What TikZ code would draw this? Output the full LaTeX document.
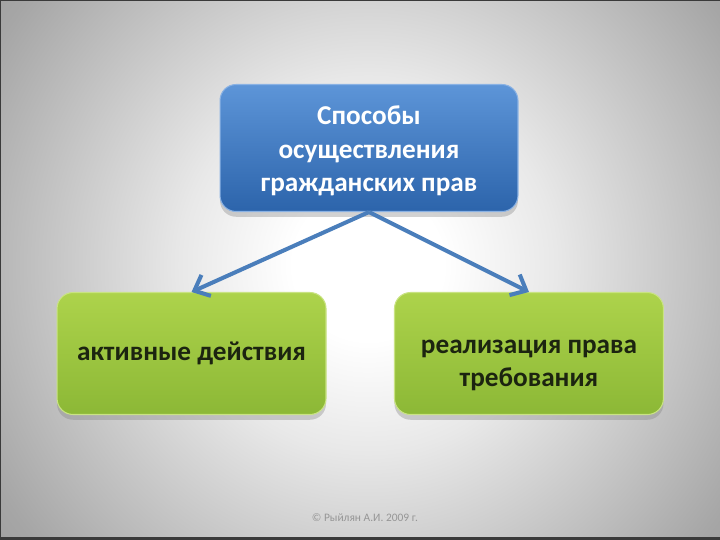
\documentclass[tikz,border=0pt]{standalone}
\usepackage{fontspec}
\setmainfont{Carlito}
\usepackage{xcolor}
\usepackage{tikz}
\usetikzlibrary{arrows.meta,positioning,shadows}
\definecolor{bluetop}{HTML}{5D95D8}
\definecolor{bluebot}{HTML}{2C64AB}
\definecolor{blueedge}{HTML}{8AB2E4}
\definecolor{greentop}{HTML}{ADD34B}
\definecolor{greenbot}{HTML}{8CB836}
\definecolor{greenedge}{HTML}{C9E383}
\definecolor{arrowblue}{HTML}{4A7EBB}
\definecolor{inktext}{HTML}{1C2410}
\definecolor{foot}{HTML}{969696}
\definecolor{bgedge}{HTML}{3A3A3A}
\pgfdeclareradialshading{slidebg}{\pgfpoint{0bp}{0bp}}{%
  color(0bp)=(white); color(4bp)=(white); color(10bp)=(black!9);
  color(17bp)=(black!23); color(23bp)=(black!35); color(29bp)=(black!42);
  color(50bp)=(black!42)}

\begin{document}
\begin{tikzpicture}[
  x=0.02cm, y=-0.02cm,
  font=\bfseries\fontsize{15.5}{19}\selectfont,
  rootbox/.style={draw=blueedge, line width=0.6pt, top color=bluetop, bottom color=bluebot,
    rounded corners=0.32cm, minimum width=5.96cm, minimum height=2.54cm, align=center,
    text=white, drop shadow={opacity=0.35, shadow xshift=0pt, shadow yshift=-3pt}},
  leafbox/.style={draw=greenedge, line width=0.6pt, top color=greentop, bottom color=greenbot,
    rounded corners=0.32cm, minimum width=5.38cm, minimum height=2.44cm, align=center,
    text=inktext, drop shadow={opacity=0.35, shadow xshift=0pt, shadow yshift=-3pt}},
  arr/.style={-{Straight Barb[length=2.6mm, width=4.6mm]}, line width=2.3pt, arrowblue}
]
% background
\useasboundingbox (0,0) rectangle (720,540);
\begin{scope}
  \clip (0,0) rectangle (720,540);
  \shade[shading=slidebg] (368,265) circle (470);
  \fill[bgedge] (0,537) rectangle (720,540);
  \fill[bgedge] (0,0) rectangle (1.2,540);
  \fill[bgedge] (0,0) rectangle (720,1);
\end{scope}

\node[rootbox] (ways) at (369,148) {\rule{0pt}{0.5cm}Способы\\осуществления\\гражданских прав};
\node[leafbox, below=1.6cm of ways.south, anchor=north, xshift=-3.55cm] (active) {активные действия};
\node[leafbox, below=1.6cm of ways.south, anchor=north, xshift=3.2cm] (claim) {\rule{0pt}{0.75cm}реализация права\\требования};

\draw[arr] (ways.south) -- (active.north);
\draw[arr] (ways.south) -- (claim.north);

\node[font=\fontsize{6.5}{8}\selectfont, text=foot] (copy) at (365,518) {© Рыйлян А.И. 2009 г.};
\end{tikzpicture}
\end{document}
